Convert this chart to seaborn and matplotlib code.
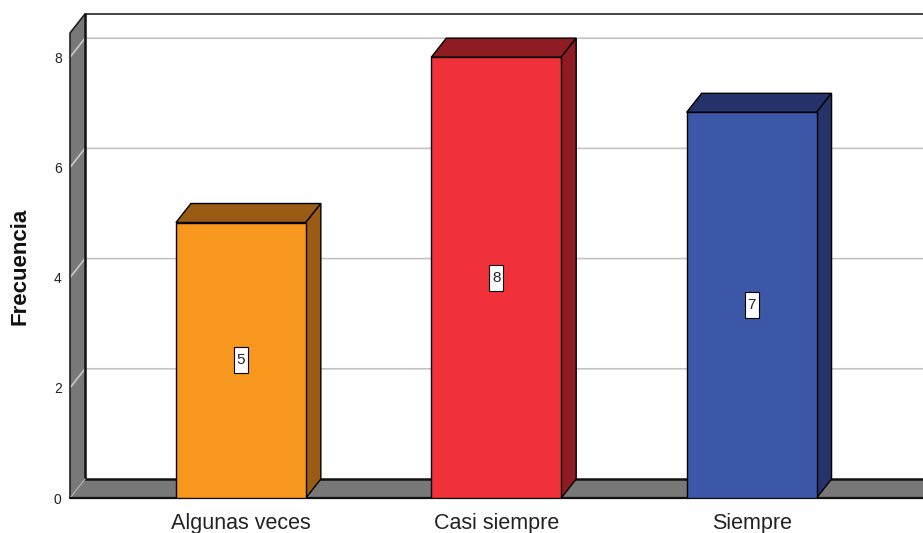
import matplotlib
matplotlib.use("Agg")
import matplotlib.pyplot as plt
import seaborn as sns
import pandas as pd
from matplotlib.patches import Polygon, Rectangle

categories = ["Algunas veces", "Casi siempre", "Siempre"]
frecuencia = [5, 8, 7]
front_colors = ["#F7971E", "#F0313A", "#3D57A8"]
dark_colors = ["#9A5B14", "#8E1C22", "#25336A"]
yticks = [0, 2, 4, 6, 8]

sns.set_theme(style="white")
plt.rcParams['font.family'] = ['Liberation Sans', 'DejaVu Sans']

W, H = 923, 533
fig = plt.figure(figsize=(W / 100, H / 100), dpi=100)
ax = fig.add_axes([70 / W, (H - 498) / H, (W - 70) / W, (498 - 14) / H])

px_x = 1 / 255.5   # category units per pixel
px_y = 1 / 55.1    # value units per pixel
dx, dy = 15 * px_x, 19 * px_y
xl = -(241 - 70) * px_x
xr = 2 + (923 - 751.5) * px_x
ytop = (498 - 14) * px_y
yfront_top = ytop - dy
bw = 130 * px_x

df = pd.DataFrame({"cat": categories, "freq": frecuencia})
sns.barplot(data=df, x="cat", y="freq", hue="cat", palette=front_colors,
            width=bw, edgecolor="black", linewidth=1.0, legend=False,
            ax=ax, zorder=5, saturation=1)

wall = "#787878"
# back wall gridlines
for v in yticks[1:]:
    ax.plot([xl, xl + dx, xr], [v, v + dy, v + dy], color="#c4c4c4", lw=1.2,
            zorder=1, clip_on=False, solid_capstyle="butt")
# left wall
ax.add_patch(Polygon([(xl, 0), (xl, yfront_top), (xl + dx, ytop), (xl + dx, dy)],
                     closed=True, facecolor=wall, edgecolor="none", zorder=0.5, clip_on=False))
# floor
ax.add_patch(Polygon([(xl, 0), (xr, 0), (xr, dy), (xl + dx, dy)],
                     closed=True, facecolor=wall, edgecolor="none", zorder=0.5, clip_on=False))
# grid diagonals on the wall
for v in yticks[1:]:
    ax.plot([xl, xl + dx], [v, v + dy], color="#a8a8a8", lw=1.0, zorder=0.8, clip_on=False)
# frame edges
ax.plot([xl, xl, xl + dx, xr], [0, yfront_top, ytop, ytop], color="#222222", lw=1.2,
        zorder=2, clip_on=False)
ax.plot([xl + dx, xl + dx, xr], [ytop, dy, dy], color="#111111", lw=1.8, zorder=2, clip_on=False)
ax.plot([xl, xl + dx], [0, dy], color="#aaaaaa", lw=1.0, zorder=2, clip_on=False)
ax.plot([xl, xr], [0, 0], color="#111111", lw=1.6, zorder=2, clip_on=False)

# 3D faces of bars
for i, (v, dc) in enumerate(zip(frecuencia, dark_colors)):
    x0, x1 = i - bw / 2, i + bw / 2
    ax.add_patch(Polygon([(x0, v), (x1, v), (x1 + dx, v + dy), (x0 + dx, v + dy)],
                         closed=True, facecolor=dc, edgecolor="black", lw=1.0, zorder=4))
    ax.add_patch(Polygon([(x1, 0), (x1, v), (x1 + dx, v + dy), (x1 + dx, dy)],
                         closed=True, facecolor=dc, edgecolor="black", lw=1.0, zorder=4))
    bwid, bht = 14 * px_x, 26 * px_y
    ax.add_patch(Rectangle((i - bwid / 2, v / 2 - bht / 2), bwid, bht,
                           facecolor="white", edgecolor="black", lw=0.8, zorder=6))
    ax.text(i, v / 2, str(v), ha="center", va="center", fontsize=11,
            color="#222222", zorder=7)

ax.set_xlim(xl, xr)
ax.set_ylim(0, ytop)
ax.set_yticks(yticks)
ax.set_yticklabels([str(t) for t in yticks], fontsize=10, color="#222222")
ax.tick_params(axis="y", length=0, pad=6)
ax.tick_params(axis="x", length=0, pad=10.5, labelsize=15.5, labelcolor="#222222")
ax.set_xlabel("")
ax.set_ylabel("")
for s in ax.spines.values():
    s.set_visible(False)
ax.set_facecolor("white")
fig.text(20 / W, 1 - 266 / H, "Frecuencia", rotation=90, ha="center", va="center",
         fontsize=16, fontweight="bold", color="#111111")

fig.savefig("out.png", dpi=100)
